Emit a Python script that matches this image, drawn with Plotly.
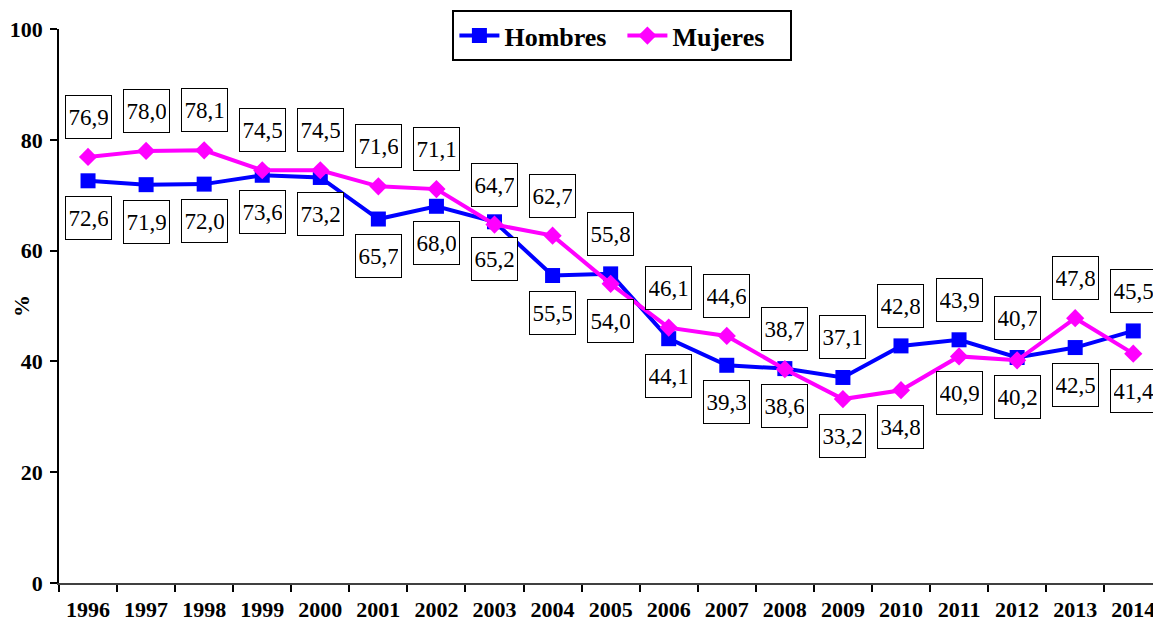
import plotly.graph_objects as go

years = ["1996", "1997", "1998", "1999", "2000", "2001", "2002", "2003", "2004", "2005",
         "2006", "2007", "2008", "2009", "2010", "2011", "2012", "2013", "2014"]
hombres = [72.6, 71.9, 72.0, 73.6, 73.2, 65.7, 68.0, 65.2, 55.5, 55.8,
           44.1, 39.3, 38.7, 37.1, 42.8, 43.9, 40.7, 42.5, 45.5]
mujeres = [76.9, 78.0, 78.1, 74.5, 74.5, 71.6, 71.1, 64.7, 62.7, 54.0,
           46.1, 44.6, 38.6, 33.2, 34.8, 40.9, 40.2, 47.8, 41.4]
# which Hombres labels sit above their point (Mujeres labels take the other side)
hombres_label_above = [False, False, False, False, False, False, False, False, False, True,
                       False, False, True, True, True, True, True, False, True]

y_ticks = [0, 20, 40, 60, 80, 100]

SERIF = "Liberation Serif"
BLUE = "#0000FF"
MAGENTA = "#FF00FF"

fig = go.Figure()
fig.add_trace(go.Scatter(
    x=years, y=hombres, name="Hombres", mode="lines+markers",
    line=dict(color=BLUE, width=4),
    marker=dict(symbol="square", size=15, color=BLUE),
    cliponaxis=False,
))
fig.add_trace(go.Scatter(
    x=years, y=mujeres, name="Mujeres", mode="lines+markers",
    line=dict(color=MAGENTA, width=4),
    marker=dict(symbol="diamond", size=14, color=MAGENTA),
    cliponaxis=False,
))

def fmt(v):
    return f"{v:.1f}".replace(".", ",")

for i, (h, m, h_up) in enumerate(zip(hombres, mujeres, hombres_label_above)):
    for val, up in ((h, h_up), (m, not h_up)):
        fig.add_annotation(
            x=i, y=val, xref="x", yref="y", text=fmt(val), showarrow=False,
            yshift=40 if up else -37,
            font=dict(family=SERIF, size=23, color="black"),
            bordercolor="black", borderwidth=1, borderpad=3,
            width=39, height=36, valign="middle",
            bgcolor="white",
        )

# y-axis title
fig.add_annotation(
    x=-0.0347, y=0.5, xref="paper", yref="paper", text="%", showarrow=False,
    textangle=-90, xanchor="center", yanchor="middle",
    font=dict(family=SERIF, size=22, color="black", weight="bold"),
)

fig.update_layout(
    width=1153, height=623,
    margin=dict(l=59, r=0, t=29, b=40, autoexpand=False),
    paper_bgcolor="white", plot_bgcolor="white",
    showlegend=True,
    legend=dict(
        orientation="h", x=0.515, xanchor="center", y=1.034, yanchor="top",
        font=dict(family=SERIF, size=26, color="black", weight="bold"),
        bordercolor="black", borderwidth=2, bgcolor="white",
        itemwidth=40, entrywidth=113, entrywidthmode="pixels",
    ),
    xaxis=dict(
        type="category", categoryorder="array", categoryarray=years,
        range=[-0.5, 18.34], automargin=False,
        showgrid=False, zeroline=False,
        showline=True, linecolor="#404040", linewidth=2,
        ticks="outside", tickson="boundaries", ticklen=7, tickwidth=1.5, tickcolor="black",
        tickfont=dict(family=SERIF, size=22, color="black", weight="bold"),
        ticklabelstandoff=6,
    ),
    yaxis=dict(
        range=[0, 100], tickvals=y_ticks, automargin=False,
        showgrid=False, zeroline=False,
        showline=True, linecolor="black", linewidth=1.5,
        ticks="outside", ticklen=7, tickwidth=1.5, tickcolor="black",
        tickfont=dict(family=SERIF, size=22, color="black", weight="bold"),
        ticklabelstandoff=3,
    ),
)

fig.write_html("out.html", config={"displayModeBar": False},
               post_script="document.body.style.margin='0px';")
